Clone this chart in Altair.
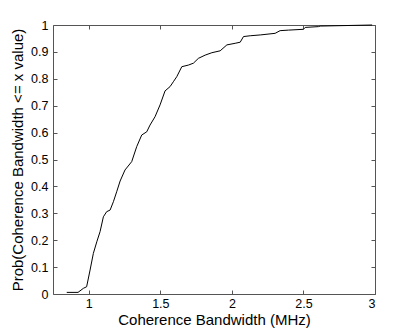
import altair as alt
import pandas as pd

bw = [0.846, 0.925, 0.962, 0.985, 1.009, 1.032, 1.056, 1.079, 1.102, 1.125, 1.149, 1.172,
      1.195, 1.219, 1.253, 1.300, 1.335, 1.370, 1.405, 1.428, 1.463, 1.498, 1.533, 1.568,
      1.591, 1.615, 1.650, 1.696, 1.731, 1.766, 1.813, 1.860, 1.918, 1.965, 2.023, 2.058,
      2.081, 2.128, 2.198, 2.302, 2.337, 2.395, 2.500, 2.512, 2.605, 2.617, 2.980]
prob = [0.006, 0.006, 0.021, 0.027, 0.089, 0.151, 0.194, 0.232, 0.287, 0.306, 0.312, 0.343,
        0.380, 0.420, 0.461, 0.492, 0.548, 0.591, 0.603, 0.628, 0.659, 0.703, 0.755, 0.771,
        0.789, 0.808, 0.845, 0.851, 0.858, 0.876, 0.888, 0.897, 0.904, 0.926, 0.932, 0.936,
        0.957, 0.960, 0.963, 0.969, 0.979, 0.981, 0.984, 0.991, 0.994, 0.996, 1.000]

x_ticks = [1, 1.5, 2, 2.5, 3]
y_ticks = [0, 0.1, 0.2, 0.3, 0.4, 0.5, 0.6, 0.7, 0.8, 0.9, 1]

df = pd.DataFrame({"bw": bw, "prob": prob})

FONT = "Liberation Sans"
FRAME = "#555555"

xscale = alt.Scale(domain=[0.75, 3], nice=False, zero=False)
yscale = alt.Scale(domain=[0, 1], nice=False, zero=False)

common = dict(offset=-4, tickSize=4, domain=False, grid=False, tickColor=FRAME,
              tickWidth=1, labelFont=FONT, labelFontSize=12.5, labelColor="black",
              titleFont=FONT, titleFontSize=15, titleFontWeight="normal",
              titleColor="black", format="~g")

line = alt.Chart(df).mark_line(color="black", strokeWidth=1).encode(
    x=alt.X("bw:Q", scale=xscale,
            axis=alt.Axis(values=x_ticks, orient="bottom", title="Coherence Bandwidth (MHz)",
                          labelPadding=3, titlePadding=3, **common)),
    y=alt.Y("prob:Q", scale=yscale,
            axis=alt.Axis(values=y_ticks, orient="left",
                          title="Prob(Coherence Bandwidth <= x value)",
                          labelPadding=5, titlePadding=5, **common)),
)

frame = alt.Chart(df).mark_line(opacity=0).encode(
    x=alt.X("bw:Q", scale=xscale,
            axis=alt.Axis(values=x_ticks, orient="top", title=None, labels=False, **common)),
    y=alt.Y("prob:Q", scale=yscale,
            axis=alt.Axis(values=y_ticks, orient="right", title=None, labels=False, **common)),
)

chart = alt.layer(line, frame).resolve_axis(x="independent", y="independent").properties(
    width=322, height=269,
    autosize=alt.AutoSizeParams(type="none"),
    padding={"left": 45, "top": 17, "right": 30, "bottom": 36},
    background="white",
).configure_view(stroke=FRAME, strokeWidth=1)

chart.save("out.html", embed_options={"renderer": "svg", "actions": False})
